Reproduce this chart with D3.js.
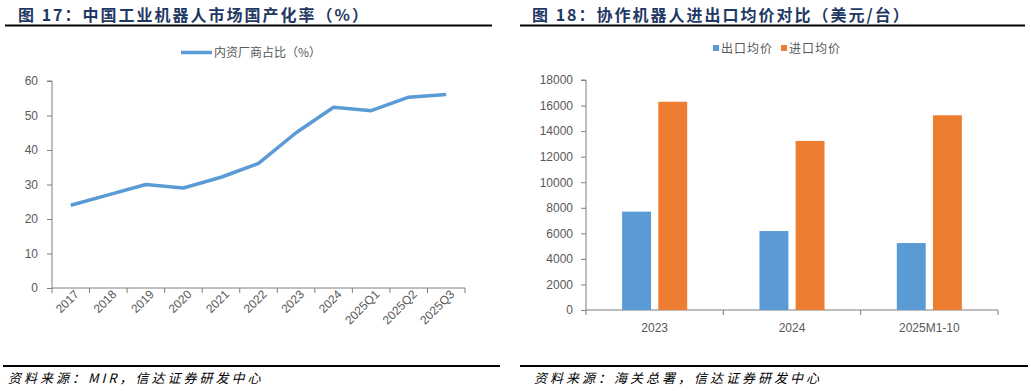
<!DOCTYPE html>
<html><head><meta charset="utf-8">
<script src="https://cdn.jsdelivr.net/npm/d3@7"></script>
<style>body{margin:0;background:#fff;}svg{display:block;font-family:Arial,"Liberation Sans","Noto Sans CJK SC",sans-serif;}</style>
</head><body>
<svg id="c" width="1031" height="391"></svg>
<script>
const lineCats = ["2017","2018","2019","2020","2021","2022","2023","2024","2025Q1","2025Q2","2025Q3"];
const lineVals = [24.0,27.0,30.0,29.0,32.1,36.1,45.0,52.4,51.4,55.3,56.1];
const lineTicks = [0,10,20,30,40,50,60];
const lineSeriesName = "内资厂商占比（%）";

const barCats = ["2023","2024","2025M1-10"];
const exportVals = [7700,6180,5240];
const importVals = [16300,13230,15240];
const barTicks = [0,2000,4000,6000,8000,10000,12000,14000,16000,18000];
const barSeriesNames = ["出口均价","进口均价"];

const title1 = "图 17：中国工业机器人市场国产化率（%）";
const title2 = "图 18：协作机器人进出口均价对比（美元/台）";
const source1 = "资料来源：MIR，信达证券研发中心";
const source2 = "资料来源：海关总署，信达证券研发中心";

const svg = d3.select("#c");
const navy = "#1f3864", gray = "#595959", axisC = "#7f7f7f";
const blue = "#5b9bd5", orange = "#ed7d31";

function title(x, x1, x2, t){
  svg.append("text").attr("x",x).attr("y",21).attr("fill",navy).attr("font-size",16).attr("font-weight","bold")
    .attr("font-family","'Noto Sans CJK SC',sans-serif").attr("letter-spacing","2px").attr("xml:space","preserve").text(t);
  svg.append("line").attr("x1",x1).attr("x2",x2).attr("y1",25.5).attr("y2",25.5).attr("stroke","#000").attr("stroke-width",2);
}
title(18,5,492,title1);
title(532,520,1025,title2);

function footer(x, x1, x2, t){
  svg.append("line").attr("x1",x1).attr("x2",x2).attr("y1",366).attr("y2",366).attr("stroke","#000").attr("stroke-width",2);
  svg.append("text").attr("x",x).attr("y",383).attr("fill","#000").attr("font-size",13).attr("font-style","italic")
    .attr("letter-spacing","3px")
    .attr("font-family","'Noto Sans CJK SC',sans-serif").text(t);
}
footer(8,3,500,source1);
footer(534,520,1028,source2);

// ---- line chart
const x1 = d3.scaleBand().domain(lineCats).range([52,465]);
const y1 = d3.scaleLinear().domain([0,60]).range([288,81]);
const gL = svg.append("g");
const ax = gL.append("g").attr("transform","translate(0,288)")
  .call(d3.axisBottom(x1).tickSize(5).tickFormat(d=>d));
ax.select(".domain").attr("stroke",axisC).attr("d","M52,0H465");
ax.selectAll(".tick line").attr("stroke",axisC).attr("transform",`translate(${-x1.bandwidth()/2},0)`);
ax.append("line").attr("x1",465).attr("x2",465).attr("y1",0).attr("y2",5).attr("stroke",axisC);
ax.selectAll(".tick text").attr("fill",gray).attr("font-size",12).attr("text-anchor","end")
  .attr("transform","translate(6,4) rotate(-45)").attr("dy","0.35em").attr("y",0).attr("x",0);
const ay = gL.append("g").attr("transform","translate(52,0)")
  .call(d3.axisLeft(y1).tickValues(lineTicks).tickSize(5));
ay.select(".domain").attr("stroke",axisC).attr("d","M-5,81H0V288");
ay.selectAll(".tick line").attr("stroke",axisC);
ay.selectAll(".tick text").attr("fill",gray).attr("font-size",12).attr("x",-14);
gL.append("path").datum(lineVals)
  .attr("d",d3.line().x((d,i)=>x1(lineCats[i])+x1.bandwidth()/2).y(d=>y1(d)))
  .attr("fill","none").attr("stroke",blue).attr("stroke-width",3.5).attr("stroke-linejoin","round");
gL.append("line").attr("x1",181).attr("x2",212).attr("y1",52.5).attr("y2",52.5).attr("stroke",blue).attr("stroke-width",3.5);
gL.append("text").attr("x",214).attr("y",57).attr("fill",gray).attr("font-size",12)
  .attr("font-family","'Noto Sans CJK SC',sans-serif").text(lineSeriesName);

// ---- bar chart
const x2 = d3.scaleBand().domain(barCats).range([586,998]);
const y2 = d3.scaleLinear().domain([0,18000]).range([310,80]);
const xs = d3.scaleBand().domain([0,1]).range([0,x2.bandwidth()]).paddingInner(0.2).paddingOuter(1.0);
const gB = svg.append("g");
const bx = gB.append("g").attr("transform","translate(0,310)")
  .call(d3.axisBottom(x2).tickSize(5));
bx.select(".domain").attr("stroke",axisC).attr("d","M586,0H998");
bx.selectAll(".tick line").attr("stroke",axisC).attr("transform",`translate(${-x2.bandwidth()/2},0)`);
bx.append("line").attr("x1",998).attr("x2",998).attr("y1",0).attr("y2",5).attr("stroke",axisC);
bx.selectAll(".tick text").attr("fill",gray).attr("font-size",12).attr("y",13);
const by = gB.append("g").attr("transform","translate(586,0)")
  .call(d3.axisLeft(y2).tickValues(barTicks).tickSize(5).tickFormat(d3.format("d")));
by.select(".domain").attr("stroke",axisC).attr("d","M-5,80H0V310");
by.selectAll(".tick line").attr("stroke",axisC);
by.selectAll(".tick text").attr("fill",gray).attr("font-size",12).attr("x",-13);
const series = [exportVals, importVals];
const colors = [blue, orange];
series.forEach((vals,si)=>{
  gB.selectAll(null).data(vals).enter().append("rect")
    .attr("x",(d,i)=>x2(barCats[i])+xs(si))
    .attr("width",xs.bandwidth())
    .attr("y",d=>y2(d)).attr("height",d=>310-y2(d))
    .attr("fill",colors[si]);
});
const lg = gB.append("g");
barSeriesNames.forEach((n,i)=>{
  const lx = [713,781][i];
  lg.append("rect").attr("x",lx).attr("y",45).attr("width",6).attr("height",6).attr("fill",colors[i]);
  lg.append("text").attr("x",lx+8).attr("y",53).attr("fill",gray).attr("font-size",12)
    .attr("font-family","'Noto Sans CJK SC',sans-serif").attr("letter-spacing","1px").text(n);
});
</script>
</body></html>
